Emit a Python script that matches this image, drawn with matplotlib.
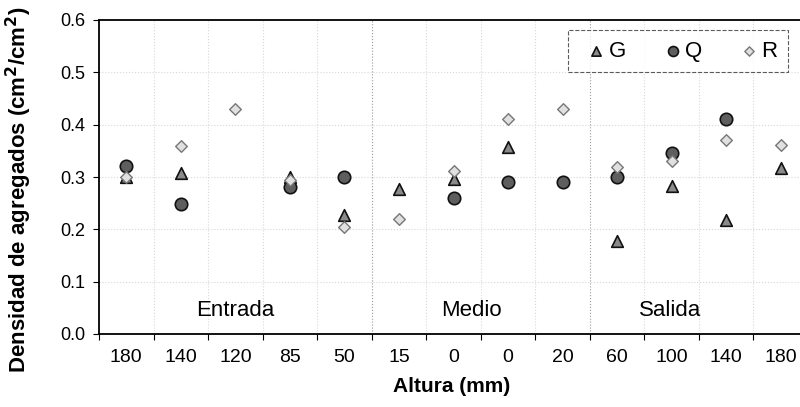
import numpy as np
import matplotlib
matplotlib.use('Agg')
import matplotlib.pyplot as plt

# datos
alturas = ['180', '140', '120', '85', '50', '15', '0', '0', '20', '60', '100', '140', '180']
g_vals = [0.30, 0.307, np.nan, 0.30, 0.228, 0.277, 0.296, 0.358, np.nan, 0.178, 0.283, 0.218, 0.318]
q_vals = [0.321, 0.249, np.nan, 0.28, 0.30, np.nan, 0.26, 0.29, 0.29, 0.30, 0.346, 0.41, np.nan]
r_vals = [0.30, 0.36, 0.43, 0.295, 0.205, 0.22, 0.312, 0.41, 0.43, 0.32, 0.331, 0.37, 0.361]
zonas = ['Entrada', 'Medio', 'Salida']
zonas_x = [2.0, 6.33, 9.98]

plt.rcParams['font.family'] = ['Liberation Sans', 'DejaVu Sans']

fig = plt.figure(figsize=(8, 4.07), dpi=100)
ax = fig.add_axes([99/800, 1-334/407, 709/800, 314/407])

x = np.arange(len(alturas))

# rejilla punteada
for b in np.arange(0.5, len(alturas) - 1, 1.0):
    c = '#999999' if b in (4.5, 8.5) else '#d8d8d8'
    ax.axvline(b, color=c, ls=':', lw=0.8, zorder=0)
for yv in [0.1, 0.2, 0.3, 0.4, 0.5]:
    ax.axhline(yv, color='#d8d8d8', ls=':', lw=0.8, zorder=0)

ax.scatter(x, g_vals, marker='^', s=70, facecolor='#8a8a8a', edgecolor='#111111', lw=1.2, label='G', zorder=3)
ax.scatter(x, q_vals, marker='o', s=80, facecolor='#5e5e5e', edgecolor='#111111', lw=1.2, label='Q', zorder=3)
ax.scatter(x, r_vals, marker='D', s=35, facecolor='#e0e0e0', edgecolor='#777777', lw=1.0, label='R', zorder=4)

for t, xp in zip(zonas, zonas_x):
    ax.text(xp, 0.044, t, ha='center', va='center', fontsize=16)

ax.set_xlim(-0.5, len(alturas) - 0.5)
ax.set_ylim(0, 0.6)
ax.set_yticks(np.arange(0, 0.61, 0.1))
ax.set_yticklabels(['%.1f' % v for v in np.arange(0, 0.61, 0.1)], fontsize=13)
ax.set_xticks(np.arange(-0.5, len(alturas), 1.0))
ax.set_xticklabels([])
ax.set_xticks(x, minor=True)
ax.set_xticklabels(alturas, minor=True, fontsize=14)
ax.tick_params(axis='x', which='minor', length=0, pad=11)
ax.tick_params(axis='x', which='major', length=4, direction='out')
ax.tick_params(axis='y', length=4, direction='out', pad=6)

ax.set_xlabel('Altura (mm)', fontsize=15, fontweight='bold', va='center')
ax.xaxis.set_label_coords((452 - 99) / 709, (334 - 386) / 314)
ax.set_ylabel('Densidad de agregados (cm$^\\mathbf{2}$/cm$^\\mathbf{2}$)', fontsize=16, fontweight='bold', va='center')
ax.yaxis.set_label_coords((19 - 99) / 709, (334 - 190) / 314)

for s in ax.spines.values():
    s.set_linewidth(1.3)

leg = ax.legend(loc='upper right', bbox_to_anchor=((788 - 99) / 709, 1 - 10 / 314), borderaxespad=0,
                ncol=3, fontsize=16, frameon=True, fancybox=False, markerscale=0.8,
                handlelength=1.56, handletextpad=-0.24, columnspacing=1.34, borderpad=0.48)
leg.get_frame().set_edgecolor('#333333')
leg.get_frame().set_linestyle('--')
leg.get_frame().set_linewidth(0.8)

fig.savefig('out.png', dpi=100)
